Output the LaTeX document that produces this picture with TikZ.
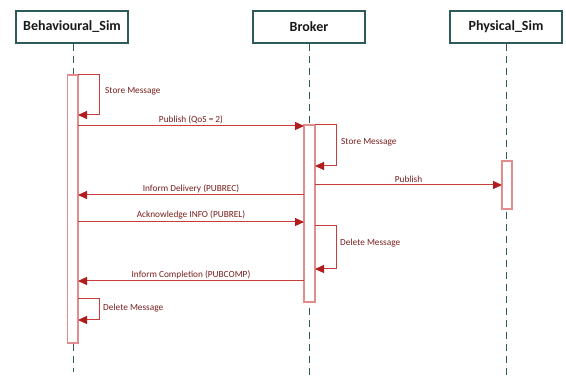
\documentclass[tikz,border=0pt]{standalone}
\usepackage{fontspec}
\setmainfont{Carlito}
\usetikzlibrary{arrows.meta}
\definecolor{teal1}{RGB}{45,90,90}
\definecolor{msgred}{RGB}{200,60,60}
\definecolor{tipred}{RGB}{178,28,28}
\definecolor{barred}{RGB}{228,140,140}
\definecolor{txtred}{RGB}{120,30,30}
\tikzset{
  head/.style={draw=teal1,line width=2pt,minimum width=112pt,minimum height=32pt,inner sep=0pt,font=\fontsize{14}{16}\selectfont\bfseries,text=black!90},
  life/.style={draw=teal1,line width=1pt,dash pattern=on 7pt off 5pt},
  bar/.style={draw=barred,fill=white,line width=1.1pt,inner sep=0pt},
  msg/.style={draw=msgred,line width=1pt,-{Triangle[length=9pt,width=8pt,fill=tipred,color=tipred]}},
  lbl/.style={font=\fontsize{9.3}{10}\selectfont,text=txtred,inner sep=1pt}
}
\begin{document}
\begin{tikzpicture}[x=1pt,y=-1pt]
\useasboundingbox (0,0) rectangle (566,377);
% headers
\node[head] (hb) at (72,27) {Behavioural\_Sim};
\node[head] (hk) at (309,27) {Broker};
\node[head] (hp) at (506,27) {Physical\_Sim};
% lifeline ends
\coordinate (eb) at (73,372);
\coordinate (ek) at (309,377);
\coordinate (ep) at (506,377);
\draw[life] (hb.south -| eb) -- (eb);
\draw[life] (hk.south) -- (ek);
\draw[life] (hp.south) -- (ep);
% activation bars
\draw[bar] (67.5,75) rectangle (78,343);
\draw[bar] (304,125) rectangle (315,302);
\draw[bar] (502,161) rectangle (512,209);
% named message end points
\coordinate (b1) at (78,75);   \coordinate (b1x) at (99,75);
\coordinate (b1y) at (99,115); \coordinate (b1e) at (78,115);
\coordinate (b2) at (78,126);  \coordinate (k2) at (304,126);
\coordinate (k3) at (315,125); \coordinate (k3x) at (336,125);
\coordinate (k3y) at (336,166);\coordinate (k3e) at (315,166);
\coordinate (k4) at (315,185); \coordinate (p4) at (502,185);
\coordinate (k5) at (304,195); \coordinate (b5) at (78,195);
\coordinate (b6) at (78,222);  \coordinate (k6) at (304,222);
\coordinate (k7) at (315,226); \coordinate (k7x) at (336,226);
\coordinate (k7y) at (336,269);\coordinate (k7e) at (315,269);
\coordinate (k8) at (304,281); \coordinate (b8) at (78,281);
\coordinate (b9) at (78,299);  \coordinate (b9x) at (99,299);
\coordinate (b9y) at (99,320); \coordinate (b9e) at (78,320);
% messages
\draw[msg] (b1) -- (b1x) -- (b1y) -- (b1e);
\node[lbl,anchor=west] at (104,91) {Store Message};
\draw[msg] (b2) -- (k2) node[lbl,midway,above=1pt] {Publish (QoS = 2)};
\draw[msg] (k3) -- (k3x) -- (k3y) -- (k3e);
\node[lbl,anchor=west] at (340,142) {Store Message};
\draw[msg] (k4) -- (p4) node[lbl,midway,above=1pt] {Publish};
\draw[msg] (k5) -- (b5) node[lbl,midway,above=1pt] {Inform Delivery (PUBREC)};
\draw[msg] (b6) -- (k6) node[lbl,midway,above=1pt] {Acknowledge INFO (PUBREL)};
\draw[msg] (k7) -- (k7x) -- (k7y) -- (k7e);
\node[lbl,anchor=west] at (339,243) {Delete Message};
\draw[msg] (k8) -- (b8) node[lbl,midway,above=1pt] {Inform Completion (PUBCOMP)};
\draw[msg] (b9) -- (b9x) -- (b9y) -- (b9e);
\node[lbl,anchor=west] at (102,308) {Delete Message};
\end{tikzpicture}
\end{document}
